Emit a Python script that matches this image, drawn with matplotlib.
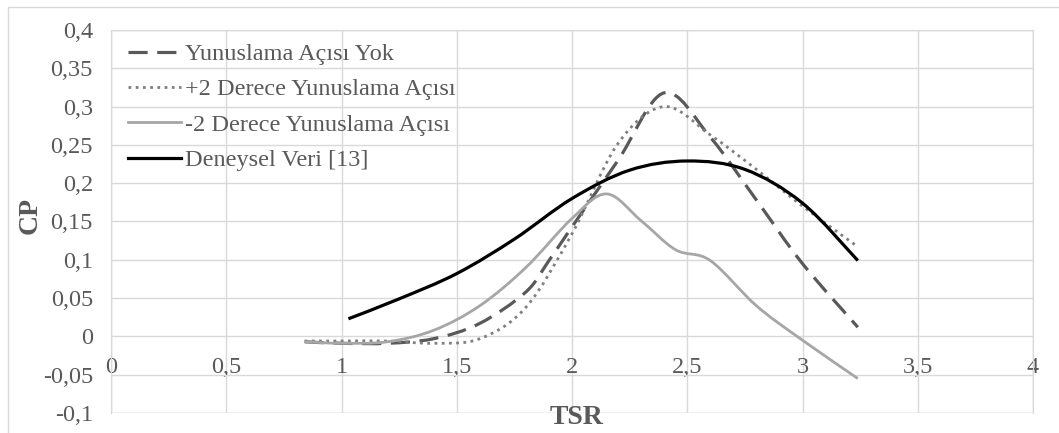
import numpy as np
import matplotlib
matplotlib.use('Agg')
import matplotlib.pyplot as plt
from matplotlib.path import Path
from matplotlib.patches import PathPatch, Rectangle
from matplotlib.lines import Line2D
from matplotlib.ticker import MultipleLocator, FuncFormatter

# values
tsr_yok = [0.84, 1.0, 1.2, 1.4, 1.6, 1.8, 1.9, 2.0, 2.2, 2.4, 2.6, 2.8, 3.0, 3.24]
cp_yok = [-0.007, -0.009, -0.009, -0.003, 0.017, 0.058, 0.099, 0.143, 0.23, 0.318, 0.26, 0.178, 0.095, 0.012]

tsr_plus2 = [0.84, 1.0, 1.2, 1.4, 1.6, 1.8, 2.0, 2.2, 2.4, 2.6, 2.8, 3.0, 3.24]
cp_plus2 = [-0.006, -0.006, -0.006, -0.009, -0.003, 0.038, 0.134, 0.252, 0.30, 0.263, 0.218, 0.17, 0.117]

tsr_minus2 = [0.84, 1.0, 1.2, 1.4, 1.6, 1.8, 2.0, 2.15, 2.3, 2.45, 2.6, 2.8, 3.0, 3.24]
cp_minus2 = [-0.007, -0.009, -0.007, 0.008, 0.04, 0.09, 0.154, 0.186, 0.151, 0.113, 0.099, 0.04, -0.005, -0.055]

tsr_exp = [1.03, 1.25, 1.5, 1.75, 2.0, 2.25, 2.5, 2.75, 3.0, 3.24]
cp_exp = [0.023, 0.049, 0.082, 0.127, 0.18, 0.217, 0.229, 0.218, 0.174, 0.099]

labels = ['Yunuslama Açısı Yok', '+2 Derece Yunuslama Açısı',
          '-2 Derece Yunuslama Açısı', 'Deneysel Veri [13]']


def smooth_path(x, y):
    # Excel-like smoothed line: Catmull-Rom segments as cubic Bezier curves
    p = np.column_stack([x, y]).astype(float)
    n = len(p)
    verts = [p[0]]
    codes = [Path.MOVETO]
    for i in range(n - 1):
        p0 = p[i - 1] if i > 0 else p[i]
        p3 = p[i + 2] if i + 2 < n else p[i + 1]
        c1 = p[i] + (p[i + 1] - p0) / 6.0
        c2 = p[i + 1] - (p3 - p[i]) / 6.0
        verts += [c1, c2, p[i + 1]]
        codes += [Path.CURVE4] * 3
    return Path(verts, codes)


serif = 'Liberation Serif'
txt_col = '#595959'
grid_col = '#d9d9d9'

fig = plt.figure(figsize=(10.59, 4.33), dpi=100)
fig.patches.append(Rectangle((8 / 1059, -0.1), 1.1, 1 - 7 / 433 + 0.1,
                             transform=fig.transFigure, fill=False,
                             edgecolor=grid_col, lw=1))
ax = fig.add_axes([111 / 1059, 20 / 433, 922 / 1059, 383 / 433])

styles = [
    (tsr_yok, cp_yok, dict(color='#595959', lw=2.3, linestyle=(0, (6, 3)))),
    (tsr_plus2, cp_plus2, dict(color='#7f7f7f', lw=2.0, linestyle=(0, (1, 1.6)))),
    (tsr_minus2, cp_minus2, dict(color='#a6a6a6', lw=2.0, linestyle='-')),
    (tsr_exp, cp_exp, dict(color='#000000', lw=2.3, linestyle='-')),
]
handles = []
for (x, y, st), lab in zip(styles, labels):
    patch = PathPatch(smooth_path(x, y), fill=False, edgecolor=st['color'],
                      lw=st['lw'], linestyle=st['linestyle'], zorder=3)
    ax.add_patch(patch)
    handles.append(Line2D([], [], color=st['color'], lw=st['lw'],
                          linestyle=st['linestyle'], label=lab))

ax.set_xlim(0, 4)
ax.set_ylim(-0.1, 0.4)
ax.xaxis.set_major_locator(MultipleLocator(0.5))
ax.yaxis.set_major_locator(MultipleLocator(0.05))
comma = FuncFormatter(lambda v, pos: ('%g' % round(v, 2)).replace('.', ','))
ax.xaxis.set_major_formatter(comma)
ax.yaxis.set_major_formatter(comma)
ax.grid(True, color=grid_col, lw=1)
ax.set_axisbelow(True)
for s in ['top', 'right', 'left']:
    ax.spines[s].set_color(grid_col)
ax.spines['bottom'].set_position(('data', 0))
ax.spines['bottom'].set_visible(False)
ax.add_patch(Rectangle((0, 0), 1, 1, transform=ax.transAxes, fill=False,
                       edgecolor=grid_col, lw=1, zorder=0))
ax.tick_params(axis='both', length=0, labelsize=17.5, labelcolor=txt_col)
ax.tick_params(axis='x', pad=15)
ax.tick_params(axis='y', pad=13)
for t in ax.get_xticklabels() + ax.get_yticklabels():
    t.set_fontfamily(serif)

fig.text(30 / 1059, 1 - 215 / 433, 'CP', rotation=90, ha='center', va='center',
         fontsize=20, fontweight='bold', color=txt_col, family=serif)
fig.text(576 / 1059, 1 - 418 / 433, 'TSR', ha='center', va='center',
         fontsize=20, fontweight='bold', color=txt_col, family=serif)

leg = ax.legend(handles=handles, loc='upper left',
                bbox_to_anchor=(128 / 1059, 1 - 43 / 433),
                bbox_transform=fig.transFigure, frameon=False,
                prop={'family': serif, 'size': 17.5}, handlelength=2.2,
                handletextpad=0.15, labelspacing=0.55, borderpad=0,
                borderaxespad=0)
for t in leg.get_texts():
    t.set_color(txt_col)

fig.savefig('out.png', dpi=100)
